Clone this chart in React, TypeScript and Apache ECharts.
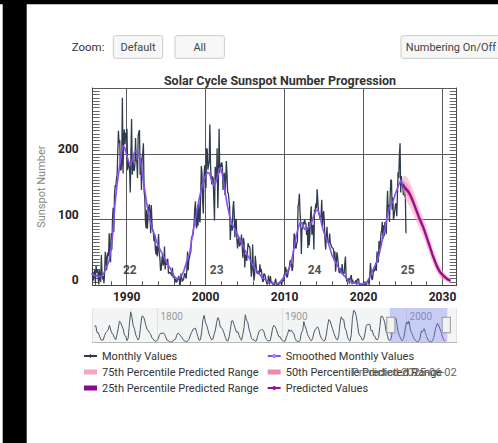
import React, { useEffect, useRef } from 'react';
import * as echarts from 'echarts';

// ---------- DATA ----------
// Monthly mean sunspot numbers, Jan 1985 .. May 2025 (12 per year)
const monthlyStartYear = 1985;
const monthlyValues: number[] = [
  21, 30, 23, 43, 28, 21, 17, 28, 7, 9, 20, 23, // 1985
  3, 30, 20, 24, 18, 1.4, 24, 10, 5, 46, 20, 9, // 1986
  14, 3, 19, 51, 43, 23, 43, 50, 44, 79, 52, 35, // 1987
  79, 54, 102, 118, 81, 136, 152, 150, 161, 168, 168, 235, // 1988
  216, 221, 176, 175, 186, 285, 170, 226, 237, 214, 232, 222, // 1989
  238, 175, 188, 188, 177, 141, 200, 253, 168, 195, 176, 174, // 1990
  183, 224, 190, 188, 163, 227, 233, 236, 168, 193, 145, 194, // 1991
  201, 216, 143, 134, 99, 87, 115, 86, 86, 119, 123, 111, // 1992
  79, 122, 94, 83, 82, 67, 78, 57, 47, 60, 44, 57, // 1993
  78, 48, 42, 22, 24, 38, 47, 30, 34, 59, 24, 35, // 1994
  31, 39, 40, 18, 19, 20, 19, 19, 15, 27, 12, 13, // 1995
  11.5, 4.4, 9.2, 4.8, 5.5, 11.8, 8.2, 14.4, 1.6, 0.9, 17.9, 13.3, // 1996
  5.7, 7.6, 8.7, 15.5, 18.5, 12.7, 10.4, 24.4, 51.3, 22.8, 39.0, 41.6, // 1997
  48.4, 50.8, 72.0, 74.3, 75.0, 83.8, 93.9, 116.2, 127.6, 91.3, 86.6, 116.3, // 1998
  90.5, 127.6, 100.9, 95.6, 137.8, 181.4, 171.4, 128.1, 109.1, 162.4, 182.4, 160.6, // 1999
  148.1, 208.5, 205.7, 175.8, 183.2, 189.3, 244.3, 181.8, 163.2, 153.5, 165.5, 162.0, // 2000
  130.1, 98.5, 180.1, 180.0, 159.4, 208.2, 117.2, 155.7, 238.2, 170.9, 184.6, 180.0, // 2001
  187, 180, 145, 165, 171, 137, 159, 189, 170, 141, 140, 130, // 2002
  120, 69, 92, 90, 83, 116, 128, 109, 73, 98, 101, 70, // 2003
  56, 69, 73, 59, 62, 65, 77, 61, 42, 72, 65, 27, // 2004
  47, 44, 37, 37, 64, 59, 60, 55, 33, 13, 27, 62, // 2005
  23, 7, 16, 45, 33, 21, 18, 19, 22, 16, 32, 20, // 2006
  25, 16, 7, 5, 18, 18, 15, 9, 4, 1.4, 2.6, 15, // 2007
  5, 3, 14, 4.4, 4.4, 4.7, 0.8, 0, 1.8, 6.3, 10, 1.5, // 2008
  2, 1.8, 0.9, 1.8, 4.4, 3.9, 5.3, 0, 6.5, 7.2, 6.2, 16, // 2009
  20, 28, 23, 12, 13, 20, 24, 29, 38, 35, 32, 22, // 2010
  27.3, 48.3, 78.6, 76.1, 58.2, 56.1, 64.5, 65.8, 120.1, 125.7, 139.1, 109.3, // 2011
  94.4, 47.8, 86.6, 85.9, 96.5, 92.0, 100.1, 94.8, 93.7, 76.5, 87.6, 56.8, // 2012
  96.1, 60.9, 78.3, 107.3, 120.2, 76.7, 86.2, 91.8, 54.5, 114.4, 113.9, 124.2, // 2013
  117.0, 146.1, 128.7, 112.5, 112.5, 102.9, 100.2, 106.9, 130.0, 90.0, 103.6, 112.9, // 2014
  93.0, 66.7, 54.5, 75.3, 88.8, 66.5, 65.8, 64.4, 78.6, 63.6, 62.2, 58.0, // 2015
  57.0, 56.4, 54.1, 37.9, 51.5, 20.5, 32.4, 50.2, 44.6, 33.4, 21.4, 18.5, // 2016
  26.1, 26.4, 17.7, 32.3, 18.9, 19.2, 17.8, 32.6, 43.7, 13.2, 5.7, 8.2, // 2017
  6.8, 10.7, 2.5, 8.9, 13.1, 15.6, 1.6, 8.7, 3.3, 4.9, 4.9, 3.1, // 2018
  7.7, 0.8, 9.4, 9.1, 9.9, 1.2, 0.9, 0.5, 1.1, 0.4, 0.5, 1.6, // 2019
  6.2, 0.2, 1.5, 5.2, 0.2, 5.8, 6.1, 7.5, 0.6, 14.4, 34.0, 21.8, // 2020
  10.4, 8.2, 17.2, 24.5, 21.2, 25.0, 34.3, 22.0, 51.3, 37.4, 34.8, 67.5, // 2021
  55.3, 59.9, 78.5, 84.1, 96.5, 70.5, 91.4, 74.6, 96.0, 95.5, 77.6, 113.1, // 2022
  143.6, 110.9, 122.6, 96.4, 137.4, 160.5, 159.1, 114.8, 133.6, 99.4, 105.4, 114.2, // 2023
  123.0, 124.7, 104.9, 136.5, 172.0, 163.0, 196.5, 216.0, 141.1, 166.3, 152.5, 154.5, // 2024
  137.0, 154.6, 134.2, 140.6, 79.0, // 2025
];

// Smoothed monthly values, sampled quarterly from 1985.5
const smoothedStart = 1985.5;
const smoothedStep = 0.25;
const smoothedValues: number[] = [
  18, 16, // 1985
  15, 14, 13.5, 13.5, // 1986
  16, 22, 29, 36, // 1987
  55, 80, 120, 150, // 1988
  172, 195, 212, 210, // 1989
  198, 188, 183, 192, // 1990
  203, 204, 200, 190, // 1991
  168, 148, 128, 110, // 1992
  97, 86, 78, 68, // 1993
  60, 54, 48, 42, // 1994
  36, 31, 26, 20, // 1995
  14, 11, 10, 12, // 1996
  16, 22, 32, 42, // 1997
  50, 70, 88, 104, // 1998
  120, 135, 148, 160, // 1999
  166, 172, 170, 160, // 2000
  152, 155, 165, 178, // 2001
  176, 160, 140, 122, // 2002
  108, 96, 90, 84, // 2003
  78, 72, 67, 60, // 2004
  53, 47, 42, 36, // 2005
  30, 26, 22, 18, // 2006
  14, 11, 9, 7, // 2007
  5, 4, 3, 2.5, // 2008
  2.5, 3.5, 6, 10, // 2009
  14, 19, 24, 31, // 2010
  44, 60, 76, 88, // 2011
  96, 94, 86, 84, // 2012
  88, 92, 98, 108, // 2013
  114, 114, 104, 90, // 2014
  80, 72, 66, 56, // 2015
  46, 40, 34, 29, // 2016
  24, 19, 15, 12, // 2017
  8, 6, 5, 4, // 2018
  3.5, 3, 2.5, 2, // 2019
  2, 3, 6, 12, // 2020
  18, 25, 31, 38, // 2021
  48, 62, 76, 88, // 2022
  104, 118, 124, 128, // 2023
  138, 146, 154, 160, // 2024
  152, // 2025
];

// Predicted values and percentile ranges, quarterly from 2025.0
const predStart = 2025.0;
const predStep = 0.25;
const predicted: number[] = [153, 148, 145, 141, 135, 128, 120, 112, 104, 97, 90, 82, 73, 64, 55, 46, 38, 30, 24, 19, 16, 13, 10.5, 8.5, 7];
const p75High: number[] = [165, 167, 165, 160, 153, 146, 138, 129, 120, 112, 104, 96, 87, 77, 68, 58, 49, 41, 34, 28, 23, 19, 16, 13, 11];
const p75Low: number[] = [144, 132, 127, 122, 116, 109, 102, 95, 88, 82, 75, 68, 59, 51, 42, 34, 27, 20, 15, 11, 9, 7, 5, 4, 3];
const p50High: number[] = [159, 158, 155, 151, 145, 138, 130, 121, 113, 106, 98, 90, 81, 72, 63, 53, 45, 37, 30, 24, 20, 17, 14, 11, 9.5];
const p50Low: number[] = [148, 139, 136, 132, 126, 119, 111, 103, 95, 89, 82, 74, 65, 56, 48, 39, 31, 24, 19, 15, 12, 9.5, 7.5, 6, 5];
const p25High: number[] = [155, 151, 148, 144, 138, 131, 123, 115, 107, 100, 93, 85, 76, 67, 58, 49, 41, 33, 27, 21, 18, 15, 12.5, 10, 8.5];
const p25Low: number[] = [151, 145, 142, 138, 132, 125, 117, 109, 101, 94, 87, 79, 70, 61, 52, 43, 35, 27, 21, 17, 14, 11, 8.5, 7, 5.5];

// Yearly mean sunspot numbers 1749..1984 (navigator history)
const yearlyStart = 1749;
const yearlyValues: number[] = [
  134.7, 139.0, 79.5, 79.7, 51.2, 20.3, 16.0, 17.0, 54.0, 79.3,
  90.0, 104.8, 143.2, 102.0, 75.2, 60.7, 34.8, 19.0, 63.0, 116.3,
  176.8, 168.0, 136.0, 110.8, 58.0, 51.0, 11.7, 33.0, 154.2, 257.3,
  209.8, 141.3, 113.5, 64.2, 38.0, 17.0, 40.2, 138.2, 220.0, 218.2,
  196.8, 149.8, 111.0, 100.0, 78.2, 68.3, 35.5, 26.7, 10.7, 6.8,
  11.3, 24.2, 56.7, 75.0, 71.8, 79.2, 70.3, 46.8, 16.8, 13.5,
  4.2, 0.0, 2.3, 8.3, 20.3, 23.2, 59.0, 76.3, 68.3, 52.9,
  38.5, 24.2, 9.2, 6.3, 2.2, 11.4, 28.2, 59.9, 83.0, 108.5,
  115.2, 117.4, 80.8, 44.3, 13.4, 19.5, 85.8, 192.7, 227.3, 168.7,
  143.0, 105.5, 63.3, 40.3, 18.1, 25.1, 65.8, 102.7, 166.3, 208.3,
  182.5, 126.3, 122.0, 102.7, 74.1, 39.0, 12.7, 8.2, 43.4, 104.4,
  178.3, 182.2, 146.6, 112.1, 83.5, 89.2, 57.8, 30.7, 13.9, 62.8,
  123.6, 232.0, 185.3, 169.2, 110.1, 74.5, 28.3, 18.9, 20.7, 5.7,
  10.0, 53.7, 90.5, 99.0, 106.1, 105.8, 86.3, 42.4, 21.8, 11.2,
  10.4, 11.8, 59.5, 121.7, 142.0, 130.0, 106.6, 69.4, 43.8, 44.4,
  20.2, 15.7, 4.6, 8.5, 40.8, 70.1, 105.5, 90.1, 102.8, 80.9,
  73.2, 30.9, 9.5, 6.0, 2.4, 16.1, 79.0, 95.0, 173.6, 134.6,
  105.7, 62.7, 43.5, 23.7, 9.7, 27.9, 74.0, 106.5, 114.7, 129.7,
  108.2, 59.4, 35.1, 18.6, 9.2, 14.6, 60.2, 132.8, 190.6, 182.6,
  148.0, 113.0, 79.2, 50.8, 27.1, 16.1, 55.3, 154.3, 214.7, 193.0,
  190.7, 118.9, 98.3, 45.0, 20.1, 6.6, 54.2, 200.7, 269.3, 261.7,
  225.1, 159.0, 76.4, 53.4, 39.9, 15.0, 22.0, 66.8, 132.9, 150.0,
  149.4, 148.0, 94.4, 97.6, 54.1, 49.2, 22.5, 18.4, 39.3, 131.0,
  220.1, 218.9, 198.9, 162.4, 91.0, 60.5,
];

// Solar cycle numbering
const cycleLabels = ['22', '23', '24', '25'];
const cycleLabelYears = [1990.4, 2001.4, 2013.8, 2025.6];
const cycleLabelLevel = [23, 23, 23, 23];

// Axis extents / zoom window
const fullMin = 1747.7;
const fullMax = 2040.2;
const windowStart = 1985.7;
const windowEnd = 2031.8;

const FONT = 'Roboto, "Noto Sans", sans-serif';

export default function App() {
  const ref = useRef<HTMLDivElement>(null);

  useEffect(() => {
    if (!ref.current) return;
    const chart = echarts.init(ref.current, null, { renderer: 'svg' });

    const monthlyPoints = monthlyValues.map((v, i) => [monthlyStartYear + (i + 0.5) / 12, v]);
    const smoothedPoints = smoothedValues.map((v, i) => [smoothedStart + i * smoothedStep, v]);
    const predX = predicted.map((_, i) => predStart + i * predStep);
    const predPoints = predicted.map((v, i) => [predX[i], v]);
    const navPoints = yearlyValues
      .map((v, i) => [yearlyStart + i + 0.5, v])
      .concat(smoothedPoints);

    const yearFmt = (v: number) => String(Math.round(v));

    const band = (name: string, lo: number[], hi: number[], color: string, opacity: number, z: number) => ({
      name,
      type: 'custom',
      xAxisIndex: 0,
      yAxisIndex: 0,
      z,
      silent: true,
      itemStyle: { color },
      encode: { x: 0, y: [1, 2] },
      data: predX.map((x, i) => [x, lo[i], hi[i]]),
      renderItem: (params: any, api: any) => {
        if (params.dataIndex !== 0) return null;
        const pts: number[][] = [];
        for (let i = 0; i < hi.length; i++) pts.push(api.coord([predX[i], hi[i]]));
        for (let i = lo.length - 1; i >= 0; i--) pts.push(api.coord([predX[i], lo[i]]));
        const cs = params.coordSys;
        return {
          type: 'polygon',
          shape: { points: pts },
          style: { fill: color, opacity },
          clipPath: { type: 'rect', shape: { x: cs.x, y: cs.y, width: cs.width, height: cs.height } },
        };
      },
    });

    const button = (x: number, w: number, label: string) => [
      {
        type: 'rect',
        shape: { x, y: 35.7, width: w, height: 22.6, r: 2 },
        style: { fill: '#f7f7f7', stroke: '#cccccc', lineWidth: 1 },
        silent: true,
      },
      {
        type: 'text',
        x: x + w / 2,
        y: 47,
        style: { text: label, fill: '#444', fontSize: 11, fontFamily: FONT, align: 'center', verticalAlign: 'middle' },
        silent: true,
      },
    ];

    const legendText = { color: '#333', fontSize: 11, lineHeight: 14, fontFamily: FONT };

    const option: any = {
      animation: false,
      backgroundColor: '#ffffff',
      textStyle: { fontFamily: FONT },
      title: {
        text: 'Solar Cycle Sunspot Number Progression',
        left: 275,
        top: 69,
        textAlign: 'center',
        textStyle: { fontSize: 12.5, fontWeight: 'bold', color: '#333', fontFamily: FONT },
      },
      legend: [
        {
          orient: 'vertical',
          left: 83,
          top: 349,
          padding: 0,
          itemWidth: 13,
          itemHeight: 5,
          itemGap: 2,
          textStyle: legendText,
          selectedMode: false,
          data: [
            { name: 'Monthly Values' },
            { name: '75th Percentile Predicted Range', icon: 'rect' },
            { name: '25th Percentile Predicted Range', icon: 'rect' },
          ],
        },
        {
          orient: 'vertical',
          left: 266.7,
          top: 349,
          padding: 0,
          itemWidth: 13,
          itemHeight: 5,
          itemGap: 2,
          textStyle: legendText,
          selectedMode: false,
          data: [
            { name: 'Smoothed Monthly Values' },
            { name: '50th Percentile Predicted Range', icon: 'rect' },
            { name: 'Predicted Values' },
          ],
        },
      ],
      grid: [
        { left: 92.7, right: 41.3, top: 88, bottom: 157.7, outerBoundsMode: 'none', containLabel: false },
        {
          left: 92.3,
          right: 41.3,
          top: 308,
          height: 34,
          show: true,
          backgroundColor: '#f3f5f4',
          borderWidth: 0,
          outerBoundsMode: 'none',
          containLabel: false,
        },
      ],
      xAxis: [
        {
          type: 'value',
          gridIndex: 0,
          min: fullMin,
          max: fullMax,
          splitNumber: 5,
          axisLine: { show: true, lineStyle: { color: '#444', width: 1 } },
          axisTick: { show: false, inside: true },
          minorTick: { show: true, splitNumber: 5, length: 4, lineStyle: { color: '#555', width: 1 } },
          splitLine: { show: true, lineStyle: { color: '#5a5a5a', width: 1 } },
          axisLabel: {
            color: '#222',
            fontWeight: 'bold',
            fontSize: 12,
            fontFamily: FONT,
            margin: 6,
            showMinLabel: false,
            showMaxLabel: false,
            formatter: yearFmt,
          },
        },
        {
          type: 'value',
          gridIndex: 1,
          min: fullMin,
          max: fullMax,
          splitNumber: 3,
          position: 'top',
          axisLine: { show: true, lineStyle: { color: '#b8b8b8', width: 1 } },
          axisTick: { show: false },
          splitLine: { show: true, lineStyle: { color: '#e2e2e2', width: 1 } },
          axisLabel: {
            inside: true,
            color: '#999',
            fontSize: 10,
            fontFamily: FONT,
            align: 'left',
            margin: 3,
            padding: [0, 0, 0, 3],
            showMinLabel: false,
            showMaxLabel: false,
            formatter: yearFmt,
          },
        },
      ],
      yAxis: [
        {
          type: 'value',
          gridIndex: 0,
          position: 'left',
          min: 0,
          max: 300,
          interval: 100,
          name: 'Sunspot Number',
          nameLocation: 'middle',
          nameGap: 43,
          nameTextStyle: { color: '#888', fontSize: 11, fontFamily: FONT },
          axisLine: { show: true, lineStyle: { color: '#444', width: 1 } },
          axisTick: { show: false, inside: true },
          minorTick: { show: true, splitNumber: 20, length: 7, lineStyle: { color: '#666', width: 1 } },
          splitLine: { show: true, lineStyle: { color: '#5a5a5a', width: 1 } },
          axisLabel: {
            color: '#222',
            fontWeight: 'bold',
            fontSize: 12,
            fontFamily: FONT,
            margin: 14,
            verticalAlign: 'bottom',
            lineHeight: 10,
            showMaxLabel: false,
          },
        },
        {
          type: 'value',
          gridIndex: 0,
          position: 'right',
          min: 0,
          max: 300,
          interval: 100,
          axisLine: { show: true, lineStyle: { color: '#444', width: 1 } },
          axisTick: { show: false, inside: true },
          minorTick: { show: true, splitNumber: 20, length: 7, lineStyle: { color: '#666', width: 1 } },
          splitLine: { show: false },
          axisLabel: { show: false },
        },
        {
          type: 'value',
          gridIndex: 1,
          min: 0,
          max: 290,
          show: false,
        },
      ],
      dataZoom: [
        {
          type: 'slider',
          xAxisIndex: 0,
          filterMode: 'none',
          startValue: windowStart,
          endValue: windowEnd,
          left: 92.3,
          right: 41.3,
          top: 308,
          height: 34,
          showDataShadow: false,
          showDetail: false,
          brushSelect: false,
          backgroundColor: 'rgba(0,0,0,0)',
          borderColor: 'rgba(0,0,0,0)',
          fillerColor: 'rgba(98,110,242,0.3)',
          handleIcon: 'path://M0,0 L8,0 L8,15 L0,15 Z',
          handleSize: '45%',
          handleStyle: { color: '#f2f2f2', borderColor: '#999', borderWidth: 1 },
          moveHandleSize: 0,
          moveHandleStyle: { opacity: 0 },
          emphasis: { handleStyle: { color: '#f2f2f2', borderColor: '#999' } },
        },
      ],
      series: [
        {
          name: 'Monthly Values',
          type: 'line',
          xAxisIndex: 0,
          yAxisIndex: 0,
          data: monthlyPoints,
          symbol: 'diamond',
          symbolSize: 7,
          showSymbol: false,
          lineStyle: { color: '#2d3b4c', width: 1.3 },
          itemStyle: { color: '#2d3b4c' },
          z: 2,
          silent: true,
        },
        {
          name: 'Smoothed Monthly Values',
          type: 'line',
          xAxisIndex: 0,
          yAxisIndex: 0,
          data: smoothedPoints,
          symbol: 'none',
          lineStyle: { color: '#8a4cf5', width: 1.6 },
          itemStyle: { color: '#a97cf7' },
          z: 3,
          silent: true,
        },
        band('75th Percentile Predicted Range', p75Low, p75High, '#f4a3c4', 0.55, 3),
        band('50th Percentile Predicted Range', p50Low, p50High, '#f08aab', 0.55, 4),
        band('25th Percentile Predicted Range', p25Low, p25High, '#8b0a8b', 0.9, 5),
        {
          name: 'Predicted Values',
          type: 'line',
          xAxisIndex: 0,
          yAxisIndex: 0,
          data: predPoints,
          symbol: 'none',
          lineStyle: { color: '#930f90', width: 2.2 },
          itemStyle: { color: '#a0129c' },
          z: 6,
          silent: true,
        },
        {
          name: 'cycleNumbers',
          type: 'scatter',
          xAxisIndex: 0,
          yAxisIndex: 0,
          data: cycleLabelYears.map((x, i) => [x, cycleLabelLevel[i], cycleLabels[i]]),
          symbolSize: 1,
          itemStyle: { color: 'rgba(0,0,0,0)' },
          label: {
            show: true,
            position: 'inside',
            formatter: (p: any) => p.value[2],
            color: '#222',
            fontWeight: 'bold',
            fontSize: 12,
            fontFamily: FONT,
          },
          z: 7,
          silent: true,
        },
        {
          name: 'navHistory',
          type: 'line',
          xAxisIndex: 1,
          yAxisIndex: 2,
          data: navPoints,
          symbol: 'none',
          lineStyle: { color: '#4a5a6c', width: 1 },
          silent: true,
          z: 2,
        },
        {
          name: 'navPredicted',
          type: 'line',
          xAxisIndex: 1,
          yAxisIndex: 2,
          data: predPoints,
          symbol: 'none',
          lineStyle: { color: '#9a18a0', width: 1 },
          silent: true,
          z: 3,
        },
      ],
      graphic: [
        { type: 'rect', shape: { x: 0, y: 0, width: 498, height: 4.3 }, style: { fill: '#000' }, silent: true },
        { type: 'rect', shape: { x: 2.7, y: 0, width: 24, height: 443 }, style: { fill: '#000' }, silent: true },
        {
          type: 'text',
          x: 71.7,
          y: 46.7,
          style: { text: 'Zoom:', fill: '#333', fontSize: 11.5, fontFamily: FONT, align: 'left', verticalAlign: 'middle' },
          silent: true,
        },
        ...button(113.3, 49.4, 'Default'),
        ...button(175, 49.4, 'All'),
        ...button(401, 100, 'Numbering On/Off'),
        {
          type: 'text',
          x: 456.7,
          y: 372.3,
          style: {
            text: 'Predicted 2025-06-02',
            fill: '#666',
            fontSize: 11,
            fontFamily: FONT,
            align: 'right',
            verticalAlign: 'middle',
          },
          silent: true,
          z: 10,
        },
      ],
    };

    chart.setOption(option);
    return () => chart.dispose();
  }, []);

  return (
    <div
      ref={ref}
      style={{ position: 'absolute', left: 0, top: 0, width: 498, height: 443, background: '#fff' }}
    />
  );
}
